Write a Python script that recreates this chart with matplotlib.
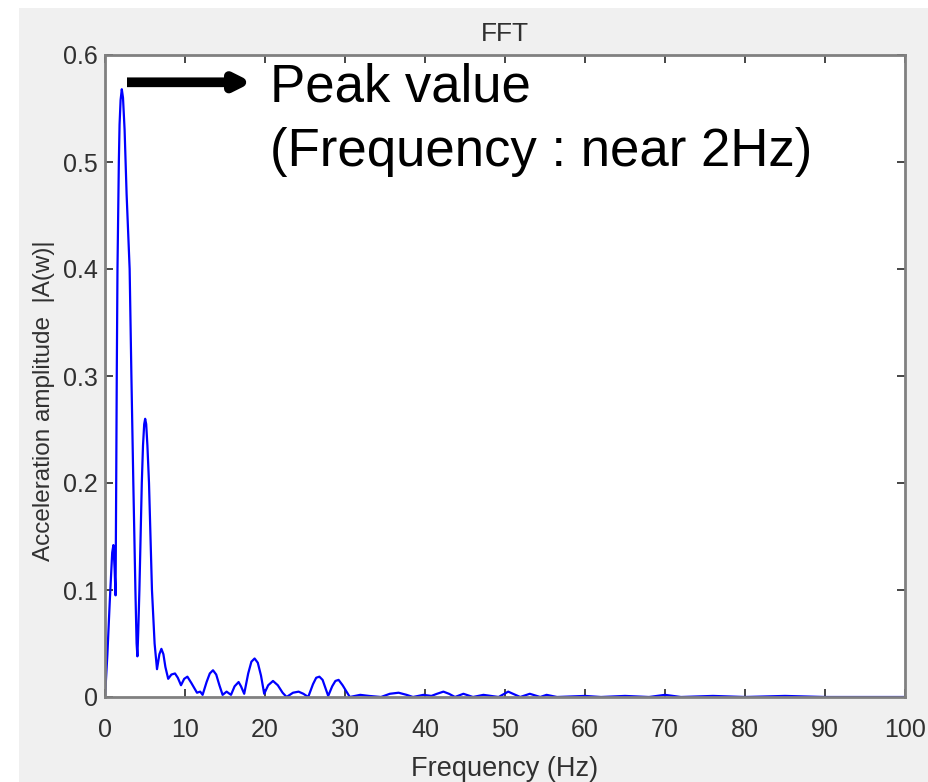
import matplotlib
matplotlib.use("Agg")
import matplotlib.pyplot as plt
from matplotlib.patches import Rectangle

plt.rcParams['font.family'] = ['Liberation Sans', 'DejaVu Sans']

# spectrum (Hz, |A(w)|)
freq = [0.0, 0.3, 0.6, 0.9, 1.05, 1.2, 1.32, 1.4, 1.47, 1.56, 1.73, 1.82, 1.95, 2.1, 2.25,
        2.45, 2.7, 3.08, 3.3, 3.54, 3.8, 3.95, 4.05, 4.15, 4.3, 4.6, 4.75, 4.9, 5.02, 5.15,
        5.3, 5.5, 5.87, 6.2, 6.5, 6.8, 7.05, 7.3, 7.55, 7.9, 8.3, 8.75, 9.1, 9.5, 9.9, 10.3,
        10.8, 11.5, 11.9, 12.2, 12.7, 13.1, 13.5, 13.9, 14.3, 14.7, 15.2, 15.75, 16.2, 16.7,
        17.0, 17.4, 17.9, 18.3, 18.7, 19.1, 19.5, 19.9, 20.4, 21.0, 21.6, 22.2, 22.7, 23.5,
        24.2, 24.8, 25.4, 26.0, 26.4, 26.8, 27.2, 27.9, 28.4, 28.8, 29.2, 29.7, 30.6, 31.9,
        33.0, 34.5, 35.6, 36.7, 37.7, 38.5, 39.8, 40.8, 41.5, 42.3, 43.0, 43.75, 44.8, 46.0,
        47.3, 49.2, 50.4, 51.9, 53.1, 54.4, 55.2, 56.5, 60, 62, 65, 68, 70, 72, 76, 80, 85,
        90, 100]
amp = [0.0, 0.04, 0.09, 0.135, 0.142, 0.12, 0.095, 0.2, 0.3, 0.4, 0.5, 0.535, 0.558, 0.568, 0.56,
       0.53, 0.47, 0.4, 0.3, 0.2, 0.1, 0.05, 0.038, 0.06, 0.1, 0.2, 0.235, 0.255, 0.26, 0.255,
       0.235, 0.2, 0.1, 0.05, 0.026, 0.04, 0.045, 0.04, 0.028, 0.017, 0.021, 0.022, 0.018, 0.011, 0.017, 0.019,
       0.013, 0.004, 0.005, 0.002, 0.014, 0.022, 0.025, 0.021, 0.011, 0.002, 0.005, 0.002, 0.01, 0.014,
       0.01, 0.003, 0.022, 0.033, 0.036, 0.032, 0.02, 0.003, 0.011, 0.015, 0.011, 0.004, 0.0, 0.004,
       0.005, 0.003, 0.0, 0.012, 0.018, 0.019, 0.016, 0.001, 0.01, 0.015, 0.016, 0.011, 0.0, 0.002,
       0.001, 0.0, 0.003, 0.004, 0.002, 0.0, 0.002, 0.001, 0.003, 0.005, 0.003, 0.0, 0.003, 0.0,
       0.002, 0.0, 0.005, 0.0, 0.003, 0.0, 0.002, 0.0, 0.001, 0.0, 0.001, 0.0, 0.002, 0.0, 0.001, 0.0, 0.001,
       0.0, 0.0]

xticks = [0, 10, 20, 30, 40, 50, 60, 70, 80, 90, 100]
yticks = [0, 0.1, 0.2, 0.3, 0.4, 0.5, 0.6]
text_col = '#303030'

W, H = 929, 782
fig = plt.figure(figsize=(W / 100, H / 100), dpi=100, facecolor='white')
# matlab-ish grey window background (white strip left/top)
fig.patches.append(Rectangle((19 / W, 0), 1 - 19 / W, 1 - 8 / H, transform=fig.transFigure,
                             facecolor='#f0f0f0', edgecolor='none', zorder=-1))

ax = fig.add_axes([105 / W, 1 - 697 / H, 800 / W, 642 / H])
ax.plot(freq, amp, color=(0, 0, 1), linewidth=1.6)
ax.set_xlim(0, 100)
ax.set_ylim(0, 0.6)
ax.set_xticks(xticks)
ax.set_yticks(yticks)
ax.set_xticklabels([str(t) for t in xticks])
ax.set_yticklabels(['0', '0.1', '0.2', '0.3', '0.4', '0.5', '0.6'])
ax.tick_params(direction='in', top=True, right=True, length=6, width=1.2,
               colors='#262626', labelsize=18, labelcolor=text_col)
ax.tick_params(axis='x', pad=15)
ax.tick_params(axis='y', pad=5)
for s in ax.spines.values():
    s.set_color('#808080')
    s.set_linewidth(2)

ax.set_title('FFT', fontsize=19, color=text_col, pad=10)
ax.set_xlabel('Frequency (Hz)', fontsize=19.5, color=text_col, labelpad=10)
ax.set_ylabel('Acceleration amplitude  |A(w)|', fontsize=17.5, color=text_col)
ax.yaxis.set_label_coords(-50 / 800, (697 - 401) / 642)

# arrow + note about the peak
ax.annotate('', xy=(18.4, 0.5745), xytext=(2.75, 0.5745),
            arrowprops=dict(arrowstyle='-|>,head_length=0.9,head_width=0.45',
                            color='black', lw=7, shrinkA=0, shrinkB=0, capstyle='butt'))
fig.text(270 / W, 1 - 102 / H, 'Peak value', fontsize=38, color='black', va='baseline')
fig.text(270 / W, 1 - 166 / H, '(Frequency : near 2Hz)', fontsize=38, color='black', va='baseline')

fig.savefig('out.png', dpi=100, facecolor=fig.get_facecolor())
